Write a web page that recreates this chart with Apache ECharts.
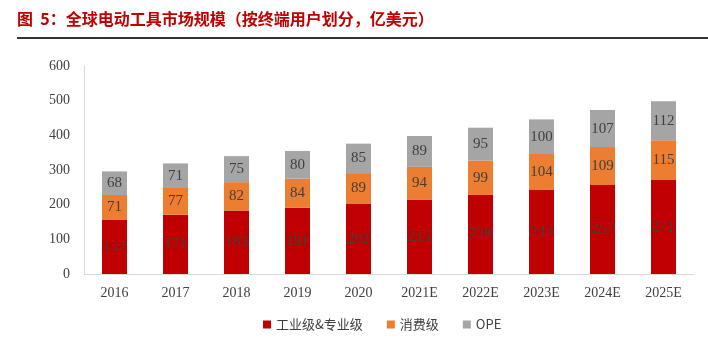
<!DOCTYPE html>
<html><head><meta charset="utf-8">
<script src="https://cdn.jsdelivr.net/npm/echarts@6/dist/echarts.min.js"></script>
<style>html,body{margin:0;padding:0;background:#fff}#c{width:708px;height:339px}</style>
</head><body><div id="c"></div>
<script>
const categories = ['2016','2017','2018','2019','2020','2021E','2022E','2023E','2024E','2025E'];
const industrial = [157,171,183,191,202,215,228,242,257,271];
const consumer = [71,77,82,84,89,94,99,104,109,115];
const ope = [68,71,75,80,85,89,95,100,107,112];
const yTicks = [0,100,200,300,400,500,600];
const seriesNames = ['工业级&专业级','消费级','OPE'];
const colors = ['#C00000','#ED7D31','#A5A5A5'];

const chart = echarts.init(document.getElementById('c'));
const lbl = {show:true, position:'inside', color:'#404040', fontFamily:'Liberation Serif', fontSize:15};
function mk(name, data, color){
  return {name, type:'bar', stack:'t', data, barWidth:25,
    itemStyle:{color},
    label:lbl};
}
chart.setOption({
  animation:false,
  graphic:[
    {type:'text', left:17, top:11, style:{text:'图  5：全球电动工具市场规模（按终端用户划分，亿美元）', fill:'#C00000', font:'bold 16px "Noto Sans CJK SC"'}},
    {type:'rect', shape:{x:17, y:37, width:691, height:2}, style:{fill:'#333'}}
  ],
  grid:{left:84, right:14, top:66, bottom:65},
  legend:{bottom:3, left:258, itemWidth:8, itemHeight:8, itemGap:24, icon:'rect',
    textStyle:{fontFamily:'"Noto Sans CJK SC"', fontSize:13, color:'#404040'},
    data:seriesNames},
  xAxis:{type:'category', data:categories,
    axisLine:{lineStyle:{color:'#D9D9D9'}}, axisTick:{show:false},
    axisLabel:{fontFamily:'Liberation Serif', fontSize:14, color:'#404040', margin:12}},
  yAxis:{type:'value', min:yTicks[0], max:yTicks[yTicks.length-1], interval:100,
    axisLine:{show:true, lineStyle:{color:'#D9D9D9'}}, axisTick:{show:false},
    splitLine:{show:false},
    axisLabel:{fontFamily:'Liberation Serif', fontSize:14, color:'#404040', margin:14}},
  series:[mk(seriesNames[0], industrial, colors[0]), mk(seriesNames[1], consumer, colors[1]), mk(seriesNames[2], ope, colors[2])]
});
</script></body></html>
